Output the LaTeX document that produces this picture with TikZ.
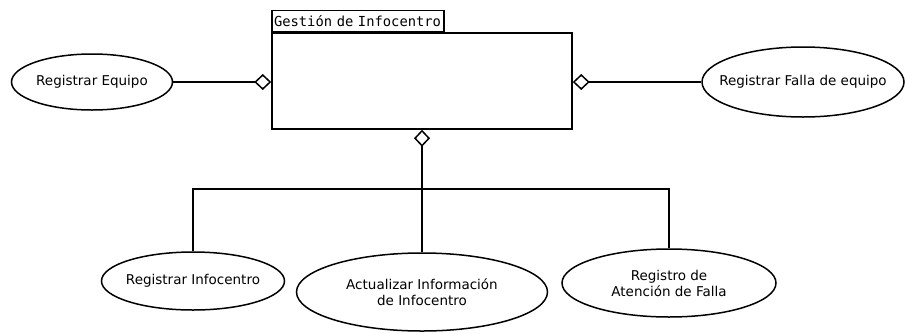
\documentclass[tikz,border=0pt]{standalone}
\usepackage{fontspec}
\setmainfont{DejaVu Sans}
\newfontfamily\tabfont{DejaVu Sans Mono}
\usepackage{tikz}
\usetikzlibrary{positioning, arrows.meta, shapes.geometric}

\begin{document}
\begin{tikzpicture}[
  x=1pt, y=-1pt,
  font=\fontsize{13.5}{16}\selectfont,
  line width=1.5pt,
  usecase/.style={ellipse, draw, inner sep=0pt, label={[align=center]center:#1}},
  agg/.style={-{Diamond[open, length=17pt, width=16pt, line width=1.5pt]}},
]
  \useasboundingbox (0,0) rectangle (905,333);

  % Package box with tab
  \node[draw, rectangle, minimum width=300pt, minimum height=96pt] (gestion) at (422,81) {};
  \node[draw, rectangle, anchor=south west, minimum width=172pt, minimum height=21pt,
        inner xsep=2pt, inner ysep=0pt, font=\tabfont\fontsize{13.8}{16}\selectfont,
        text width=168pt] (tab) at (gestion.north west) {Gestión de Infocentro};

  % Side use cases
  \node[usecase={Registrar Equipo}, minimum width=161pt, minimum height=56pt] (regEquipo) at (92,82) {};
  \node[usecase={Registrar Falla de equipo}, minimum width=202pt, minimum height=70pt] (regFalla) at (803,82) {};

  \draw[agg] (regEquipo) -- (regEquipo -| gestion.west);
  \draw[agg] (regFalla) -- (regFalla -| gestion.east);

  % Bottom use cases
  \node[usecase={Registrar Infocentro}, minimum width=183pt, minimum height=58pt] (regInfo) at (193,281) {};
  \node[usecase={Actualizar Información\\de Infocentro}, minimum width=251pt, minimum height=78pt] (actInfo) at (422,292) {};
  \node[usecase={Registro de\\Atención de Falla}, minimum width=214pt, minimum height=68pt] (regAtencion) at (669,283) {};

  \coordinate (branch) at (422,189);
  \draw[agg] (actInfo.north) -- (gestion.south);
  \draw (regInfo.north) |- (branch) -| (regAtencion.north);

\end{tikzpicture}
\end{document}
